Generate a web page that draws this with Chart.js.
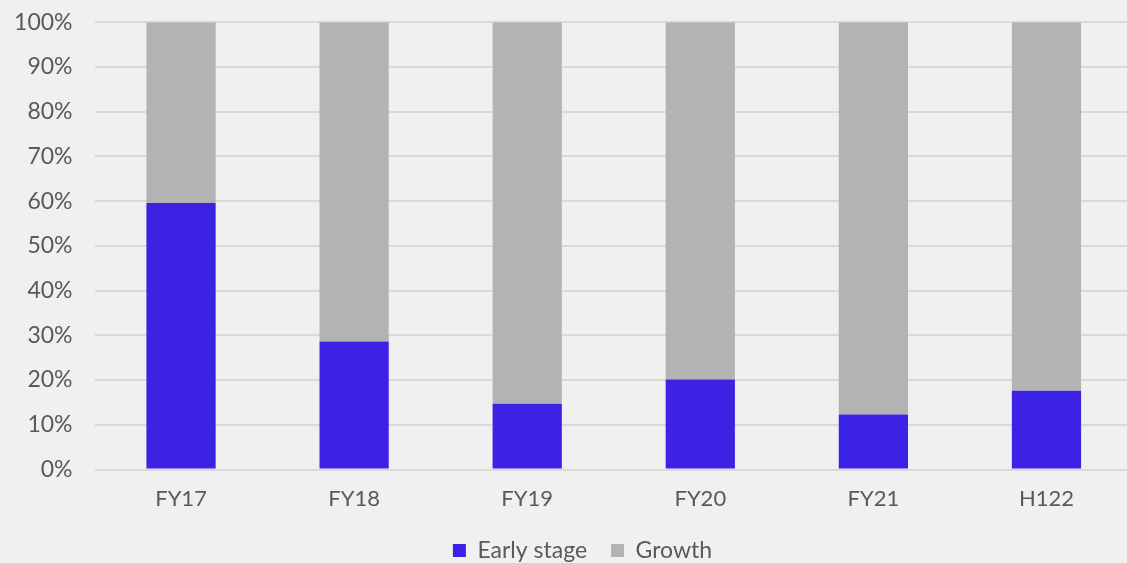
<!DOCTYPE html>
<html>
<head>
<meta charset="utf-8">
<script src="https://cdn.jsdelivr.net/npm/chart.js@4/dist/chart.umd.min.js"></script>
<style>
  html, body { margin: 0; padding: 0; background: #f0f0f0; overflow: hidden; }
  #wrap { position: relative; width: 1133px; height: 572px; }
</style>
</head>
<body>
<div id="wrap"><canvas id="c"></canvas></div>
<script>
const categories = ['FY17', 'FY18', 'FY19', 'FY20', 'FY21', 'H122'];
const earlyStage = [59.6, 28.6, 14.7, 20.1, 12.3, 17.6];
const growth = [40.4, 71.4, 85.3, 79.9, 87.7, 82.4];
const yTicks = [0, 10, 20, 30, 40, 50, 60, 70, 80, 90, 100];

const textColor = '#595959';
const fontFamily = 'Lato, "Open Sans", sans-serif';

const legendShift = {
  id: 'legendShift',
  afterLayout(chart) {
    const lg = chart.legend;
    if (lg) { lg.left += 16; lg.right += 16; }
  }
};

new Chart(document.getElementById('c'), {
  type: 'bar',
  data: {
    labels: categories,
    datasets: [
      { label: 'Early stage', data: earlyStage, backgroundColor: '#3c22e2', borderWidth: 0,
        barPercentage: 0.4, categoryPercentage: 1.0 },
      { label: 'Growth', data: growth, backgroundColor: '#b3b3b3', borderWidth: 0,
        barPercentage: 0.4, categoryPercentage: 1.0 }
    ]
  },
  plugins: [legendShift],
  options: {
    responsive: true,
    maintainAspectRatio: false,
    animation: false,
    layout: { padding: { left: 0, right: 0, top: 22.3, bottom: 0 } },
    plugins: {
      tooltip: { enabled: false },
      legend: {
        position: 'bottom',
        labels: {
          color: textColor,
          font: { family: fontFamily, size: 23 },
          boxWidth: 13,
          boxHeight: 13,
          padding: 24
        }
      }
    },
    scales: {
      x: {
        stacked: true,
        grid: { display: false },
        border: { display: false },
        afterFit: (s) => { s.height = 45.5; },
        ticks: { color: textColor, font: { family: fontFamily, size: 22 }, padding: 8 }
      },
      y: {
        stacked: true,
        min: 0,
        max: 100,
        afterBuildTicks: (s) => { s.ticks = yTicks.map(v => ({ value: v })); },
        afterFit: (s) => { s.width = 94.5; s.paddingTop = 0; s.paddingBottom = 0; },
        grid: { color: '#d9d9d9', lineWidth: 2, drawTicks: false },
        border: { display: false },
        ticks: {
          color: textColor,
          font: { family: fontFamily, size: 23 },
          padding: 22,
          callback: (v) => v + '%'
        }
      }
    }
  }
});
</script>
</body>
</html>
